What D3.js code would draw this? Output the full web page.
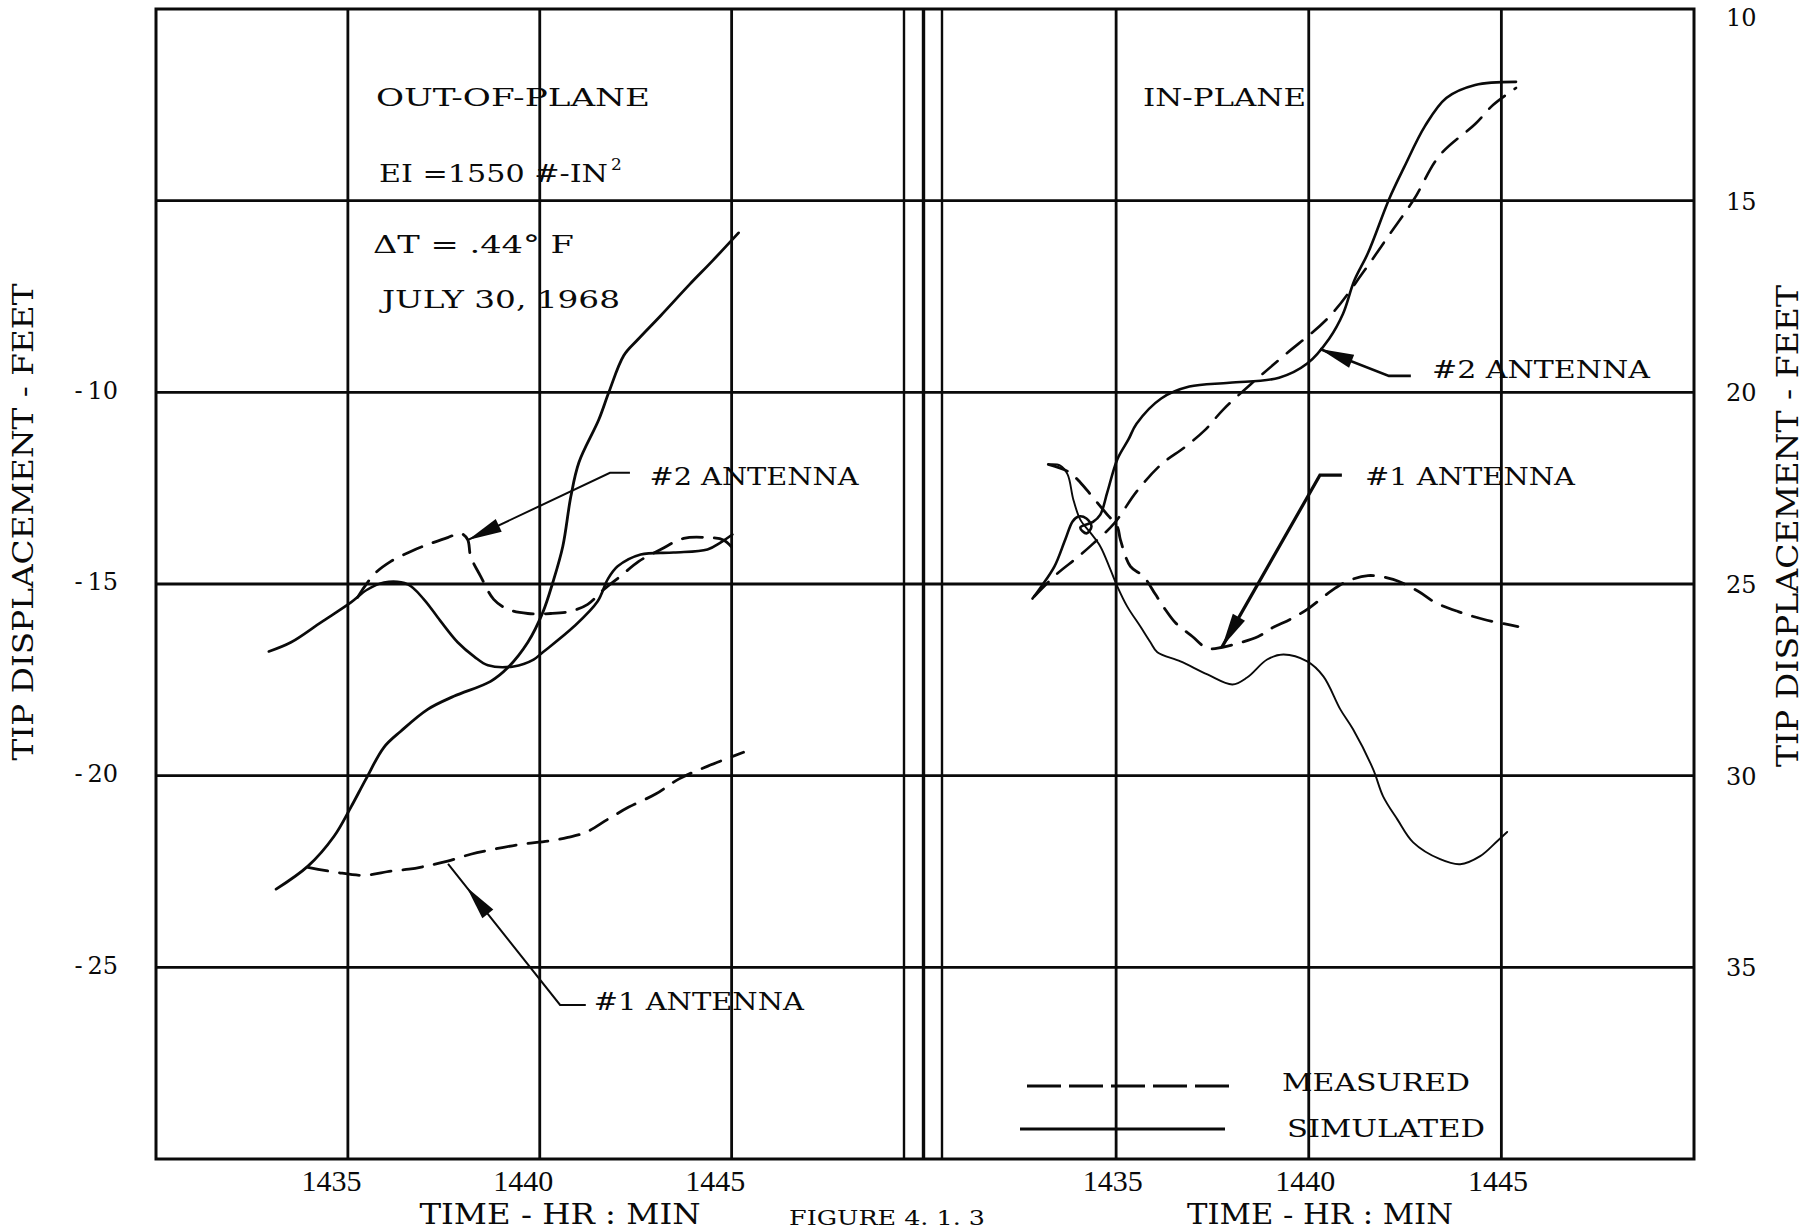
<!DOCTYPE html>
<html>
<head>
<meta charset="utf-8">
<script src="https://cdn.jsdelivr.net/npm/d3@7"></script>
<style>
  html, body { margin: 0; padding: 0; background: #fff; }
  svg { display: block; }
</style>
</head>
<body>
<svg id="chart" width="1811" height="1232"></svg>
<script>
// Time ticks (HHMM) shared by both panels
const timeTicks = [1435, 1440, 1445];
// Out-of-plane axis (left), feet
const outTicks = [-10, -15, -20, -25];
const outGrid = [-5, -10, -15, -20, -25];
// In-plane axis (right), feet
const inTicks = [10, 15, 20, 25, 30, 35];

// Out-of-plane, #1 antenna
const outSim1 = [[1433.13,-22.96],[1433.96,-22.36],[1434.64,-21.58],[1435.08,-20.82],[1435.47,-20.09],
  [1435.94,-19.26],[1436.38,-18.84],[1437.08,-18.27],[1437.76,-17.93],[1438.72,-17.54],[1439.17,-17.18],
  [1439.69,-16.52],[1440.08,-15.74],[1440.34,-14.96],[1440.6,-14.02],[1440.81,-12.72],[1441.02,-11.83],
  [1441.54,-10.71],[1441.8,-10.0],[1442.19,-9.04],[1442.55,-8.63],[1443.15,-8.0],[1443.9,-7.19],
  [1444.5,-6.57],[1445.18,-5.84]];
const outMeas1 = [[1433.96,-22.39],[1434.69,-22.52],[1435.39,-22.6],[1436.12,-22.49],[1436.59,-22.44],
  [1437.03,-22.36],[1437.6,-22.23],[1438.2,-22.05],[1438.8,-21.92],[1439.51,-21.79],[1440.21,-21.71],
  [1440.73,-21.61],[1441.2,-21.48],[1441.77,-21.14],[1442.32,-20.82],[1443.02,-20.48],[1443.62,-20.09],
  [1444.38,-19.75],[1445.31,-19.39]];
// Out-of-plane, #2 antenna
const outSim2 = [[1432.94,-16.76],[1433.52,-16.52],[1434.3,-16.0],[1435.08,-15.48],[1435.5,-15.15],
  [1435.94,-14.96],[1436.56,-15.01],[1436.98,-15.4],[1437.4,-15.95],[1437.86,-16.52],[1438.3,-16.9],
  [1438.65,-17.12],[1439.32,-17.15],[1439.84,-16.97],[1440.08,-16.78],[1440.89,-16.11],[1441.51,-15.45],
  [1441.77,-14.88],[1442.03,-14.54],[1442.63,-14.23],[1443.49,-14.18],[1444.37,-14.1],[1444.71,-13.92],
  [1445.02,-13.71]];
const outMeas2 = [[1435.25,-15.35],[1435.68,-14.75],[1436.12,-14.41],[1436.64,-14.15],[1437.08,-13.97],
  [1437.6,-13.79],[1437.94,-13.68],[1438.12,-13.84],[1438.2,-14.28],[1438.46,-14.8],[1438.8,-15.4],
  [1439.17,-15.66],[1439.69,-15.77],[1440.29,-15.77],[1440.81,-15.71],[1441.25,-15.53],[1441.67,-15.14],
  [1442.1,-14.8],[1442.58,-14.41],[1443.15,-14.1],[1443.75,-13.81],[1444.38,-13.79],[1444.8,-13.86],
  [1445.18,-14.25]];

// In-plane, #1 antenna
const inSim1 = [[1433.24,21.88],[1433.55,21.91],[1433.74,22.14],[1433.89,22.8],[1434.07,23.32],
  [1434.33,23.66],[1434.59,24.02],[1434.85,24.62],[1435.03,25.06],[1435.29,25.59],[1435.63,26.11],
  [1435.89,26.52],[1436.07,26.78],[1436.67,27.02],[1437.37,27.36],[1438.02,27.62],[1438.4,27.44],
  [1438.92,26.97],[1439.34,26.84],[1439.96,27.02],[1440.38,27.41],[1440.82,28.27],[1441.15,28.79],
  [1441.67,29.83],[1441.93,30.54],[1442.3,31.14],[1442.71,31.74],[1443.41,32.18],[1443.93,32.31],
  [1444.45,32.1],[1444.89,31.71],[1445.15,31.47]];
const inMeas1 = [[1433.24,21.88],[1433.76,22.07],[1434.07,22.35],[1434.38,22.72],[1434.77,23.19],
  [1435.03,23.5],[1435.11,23.84],[1435.37,24.54],[1435.71,24.8],[1436.02,25.27],[1436.28,25.67],
  [1436.54,26.01],[1436.98,26.37],[1437.37,26.68],[1437.76,26.65],[1438.15,26.55],[1438.69,26.37],
  [1439.08,26.13],[1439.52,25.92],[1439.96,25.66],[1440.64,25.14],[1441.0,24.93],[1441.54,24.78],
  [1442.19,24.88],[1442.84,25.19],[1443.28,25.48],[1443.88,25.72],[1444.53,25.92],[1445.43,26.11]];
// In-plane, #2 antenna
const inSim2 = [[1432.83,25.38],[1433.04,25.09],[1433.4,24.54],[1433.68,23.84],[1433.87,23.37],
  [1434.02,23.24],[1434.23,23.29],[1434.36,23.5],[1434.23,23.68],[1434.07,23.53],[1434.4,23.38],
  [1434.59,23.19],[1434.77,22.61],[1435.03,21.75],[1435.32,21.23],[1435.53,20.82],[1436.17,20.16],
  [1436.9,19.85],[1437.94,19.75],[1439.23,19.62],[1439.96,19.25],[1440.53,18.6],[1440.89,17.95],
  [1441.18,17.09],[1441.54,16.36],[1442.09,14.95],[1442.48,14.12],[1443.02,13.05],[1443.57,12.32],
  [1444.32,11.98],[1445.38,11.9]];
const inMeas2 = [[1432.88,25.32],[1433.48,24.72],[1433.99,24.31],[1434.41,23.94],[1434.95,23.42],
  [1435.53,22.59],[1436.17,21.88],[1436.77,21.44],[1437.29,21.0],[1437.78,20.45],[1438.48,19.8],
  [1439.36,19.04],[1440.53,18.03],[1441.44,16.83],[1442.09,15.89],[1442.74,14.95],[1443.39,13.83],
  [1444.32,13.0],[1444.79,12.5],[1445.38,12.06]];

// Callouts: leader from label to curve, in data units of each panel
const callouts = [
  { panel: "out", label: "#2 ANTENNA", tip: [1438.13,-13.85], elbow: [1441.83,-12.1], tail: [1442.35,-12.1],
    at: [1442.86,-12.43], len: 209, width: 2, headBack: 0 },
  { panel: "out", label: "#1 ANTENNA", tip: [1437.61,-22.3], elbow: [1440.53,-25.98], tail: [1441.2,-25.98],
    at: [1441.41,-26.11], len: 210, width: 2, headBack: 30 },
  { panel: "in", label: "#2 ANTENNA", tip: [1440.29,18.87], elbow: [1442.08,19.57], tail: [1442.65,19.57],
    at: [1443.2,19.63], len: 218, width: 2.6, headBack: 0 },
  { panel: "in", label: "#1 ANTENNA", tip: [1437.75,26.64], elbow: [1440.29,22.16], tail: [1440.86,22.16],
    at: [1441.46,22.42], len: 210, width: 3.2, headBack: 0 }
];

const INK = "#0a0a0a";
const SERIF = "'DejaVu Serif', 'Liberation Serif', serif";

const svg = d3.select("#chart");
svg.append("rect").attr("width", 1811).attr("height", 1232).attr("fill", "#fff");

const frame = { top: 9, bottom: 1159, left: 156, mid: 923.5, right: 1694 };

const xOut = d3.scaleLinear().domain([1430, 1450]).range([frame.left, frame.mid]);
const xIn  = d3.scaleLinear().domain([1430, 1450]).range([frame.mid, frame.right]);
const yOut = d3.scaleLinear().domain([0, -30]).range([frame.top, frame.bottom]);
const yIn  = d3.scaleLinear().domain([10, 40]).range([frame.top, frame.bottom]);
const scales = { out: [xOut, yOut], in: [xIn, yIn] };

// ---- grid ----
const grid = svg.append("g").attr("stroke", INK).attr("fill", "none");
grid.selectAll("line.h").data(outGrid).join("line")
  .attr("x1", frame.left).attr("x2", frame.right)
  .attr("y1", d => yOut(d)).attr("y2", d => yOut(d))
  .attr("stroke-width", 2.8);
grid.selectAll("line.vo").data(timeTicks).join("line")
  .attr("x1", d => xOut(d)).attr("x2", d => xOut(d))
  .attr("y1", frame.top).attr("y2", frame.bottom).attr("stroke-width", 2.8);
grid.selectAll("line.vi").data(timeTicks).join("line")
  .attr("x1", d => xIn(d)).attr("x2", d => xIn(d))
  .attr("y1", frame.top).attr("y2", frame.bottom).attr("stroke-width", 2.8);
// centre separator: panel boundary plus two flanking rules
[[xOut(1450) - 19.5, 2.4], [xOut(1450), 3.4], [xIn(1430) + 18.5, 2.4]].forEach(([x, w]) => {
  grid.append("line").attr("x1", x).attr("x2", x)
    .attr("y1", frame.top).attr("y2", frame.bottom).attr("stroke-width", w);
});
grid.append("rect")
  .attr("x", frame.left).attr("y", frame.top)
  .attr("width", frame.right - frame.left).attr("height", frame.bottom - frame.top)
  .attr("stroke-width", 3);

// ---- axes (labels only, grid drawn above) ----
function styleAxis(g) {
  g.select(".domain").remove();
  g.selectAll(".tick line").remove();
  g.selectAll("text").attr("fill", INK);
}
const leftAxis = svg.append("g")
  .attr("transform", `translate(118,0)`)
  .call(d3.axisLeft(yOut).tickValues(outTicks).tickSize(0).tickPadding(0)
    .tickFormat(d => "-\u2009" + Math.abs(d)))
  .call(styleAxis)
  .attr("font-family", SERIF).attr("font-size", 24);
leftAxis.selectAll("text").attr("dy", "0.24em");

const rightAxis = svg.append("g")
  .attr("transform", `translate(1726,0)`)
  .call(d3.axisRight(yIn).tickValues(inTicks).tickSize(0).tickPadding(0))
  .call(styleAxis)
  .attr("font-family", SERIF).attr("font-size", 24);
rightAxis.selectAll("text").attr("dy", d => d === 10 ? "0.68em" : "0.36em");

[[xOut, -17], [xIn, -4]].forEach(([xs, shift]) => {
  const g = svg.append("g")
    .attr("transform", `translate(${shift},1191)`)
    .call(d3.axisBottom(xs).tickValues(timeTicks).tickSize(0).tickPadding(0).tickFormat(d3.format("d")))
    .call(styleAxis)
    .attr("font-family", "'Liberation Serif', serif").attr("font-size", 30);
  g.selectAll("text").attr("y", 0).attr("dy", 0);
});

// titles and notes
function label(x, y, txt, size, len, opts = {}) {
  const t = svg.append("text")
    .attr("x", x).attr("y", y)
    .attr("font-family", opts.family || SERIF).attr("font-size", size)
    .attr("fill", INK)
    .attr("text-anchor", opts.anchor || "start")
    .text(txt);
  if (len) t.attr("textLength", len).attr("lengthAdjust", "spacingAndGlyphs");
  if (opts.rotate) t.attr("transform", `rotate(${opts.rotate},${x},${y})`);
  return t;
}
label(560, 1224, "TIME - HR : MIN", 27, 281, { anchor: "middle" });
label(1320, 1224, "TIME - HR : MIN", 27, 266, { anchor: "middle" });
label(789, 1225, "FIGURE 4. 1. 3", 20, 196);
label(33, 522, "TIP DISPLACEMENT - FEET", 27, 477, { anchor: "middle", rotate: -90 });
label(1798, 526, "TIP DISPLACEMENT - FEET", 29, 482, { anchor: "middle", rotate: -90 });

label(376, 106, "OUT-OF-PLANE", 24, 274);
label(379, 182, "EI =1550 #-IN", 24, 229);
label(611, 170, "2", 17);
label(373, 253, "\u0394T = .44\u00B0 F", 24, 201);
label(382, 308, "JULY 30, 1968", 24, 238);
label(1143, 106, "IN-PLANE", 24, 163);

// ---- curves ----
function drawCurve(data, panel, dashed, width) {
  const [xs, ys] = scales[panel];
  const line = d3.line().x(d => xs(d[0])).y(d => ys(d[1])).curve(d3.curveCatmullRom.alpha(0.5));
  svg.append("path").datum(data)
    .attr("d", line)
    .attr("fill", "none").attr("stroke", INK)
    .attr("stroke-width", width)
    .attr("stroke-linecap", "round").attr("stroke-linejoin", "round")
    .attr("stroke-dasharray", dashed ? "20,12" : null);
}
drawCurve(outMeas1, "out", true, 2.8);
drawCurve(outMeas2, "out", true, 2.8);
drawCurve(outSim1, "out", false, 2.8);
drawCurve(outSim2, "out", false, 2.6);
drawCurve(inMeas1, "in", true, 2.8);
drawCurve(inMeas2, "in", true, 2.6);
drawCurve(inSim1, "in", false, 1.9);
drawCurve(inSim2, "in", false, 2.6);

// ---- callouts ----
callouts.forEach(c => {
  const [xs, ys] = scales[c.panel];
  const tip = [xs(c.tip[0]), ys(c.tip[1])];
  const elbow = [xs(c.elbow[0]), ys(c.elbow[1])];
  const tail = [xs(c.tail[0]), ys(c.tail[1])];
  svg.append("polyline")
    .attr("points", [tail, elbow, tip].map(p => p.join(",")).join(" "))
    .attr("fill", "none").attr("stroke", INK).attr("stroke-width", c.width);
  const dx = elbow[0] - tip[0], dy = elbow[1] - tip[1];
  const L = Math.hypot(dx, dy), ux = dx / L, uy = dy / L;
  const ax = tip[0] + ux * c.headBack, ay = tip[1] + uy * c.headBack;
  const hl = 34, hw = 7;
  const bx = ax + ux * hl, by = ay + uy * hl;
  svg.append("polygon")
    .attr("points", [[ax, ay], [bx - uy * hw, by + ux * hw], [bx + uy * hw, by - ux * hw]]
      .map(p => p.join(",")).join(" "))
    .attr("fill", INK);
  label(xs(c.at[0]), ys(c.at[1]), c.label, 24, c.len);
});

// ---- legend ----
const legend = svg.append("g");
legend.append("line").attr("x1", 1027).attr("x2", 1237).attr("y1", 1086).attr("y2", 1086)
  .attr("stroke", INK).attr("stroke-width", 2.8).attr("stroke-dasharray", "34,8");
legend.append("line").attr("x1", 1020).attr("x2", 1225).attr("y1", 1129).attr("y2", 1129)
  .attr("stroke", INK).attr("stroke-width", 2.8);
label(1282, 1091, "MEASURED", 24, 188);
label(1287, 1137, "SIMULATED", 25, 198);
</script>
</body>
</html>
